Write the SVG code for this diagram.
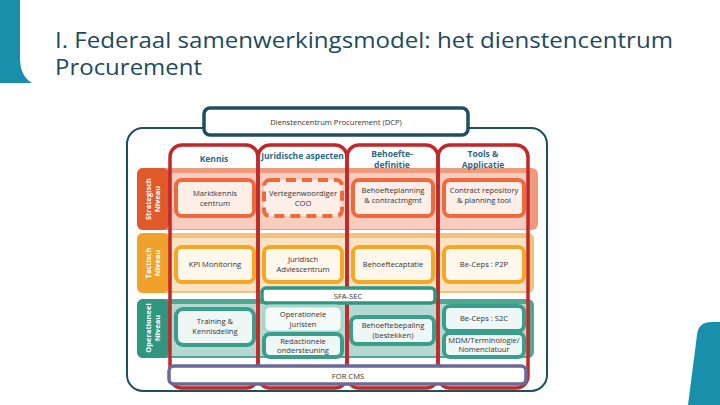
<svg xmlns="http://www.w3.org/2000/svg" width="720" height="405" viewBox="0 0 720 405">
<style>
.title{font-family:"Open Sans","Liberation Sans",sans-serif;font-size:21px;fill:#1d4a5c}
.hd{font-family:"Open Sans","Liberation Sans",sans-serif;font-size:8.5px;font-weight:bold;fill:#2b6a88;text-anchor:middle}
.t{font-family:"Open Sans","Liberation Sans",sans-serif;font-size:7.6px;fill:#333;text-anchor:middle}
.lv{font-family:"Open Sans","Liberation Sans",sans-serif;font-size:7.5px;font-weight:bold;fill:#fff;text-anchor:middle}
.col{fill:none;stroke:#c0282a;stroke-width:3.5}
.bs{fill:#fdeee8;stroke:#ec6a3e;stroke-width:4}
.bt{fill:#fef7ec;stroke:#f5a623;stroke-width:4}
.bo{fill:#eef7f5;stroke:#3a9f8a;stroke-width:4}
</style>
<path d="M0 0H20V58Q20 76 32 83H0Z" fill="#1a8fac"/>
<path d="M688 405L697 335Q698 322 712 322H720V405Z" fill="#1a8fac"/>
<text class="title" x="55" y="48" textLength="618" lengthAdjust="spacingAndGlyphs">I. Federaal samenwerkingsmodel: het dienstencentrum</text>
<text class="title" x="55" y="75" textLength="147" lengthAdjust="spacingAndGlyphs">Procurement</text>

<g id="outer"><rect x="127" y="128" width="420" height="263" rx="16" fill="#fff" stroke="#1f4e5f" stroke-width="2"/></g>

<g id="band-strategisch">
<rect x="137" y="168" width="401" height="62" rx="6" fill="#ee9a7c"/>
<rect x="168" y="173" width="361" height="56" fill="#f8cdbd"/>
<rect x="137" y="168" width="32" height="62" rx="6" fill="#e0592b"/>
<text class="lv" transform="translate(151,199) rotate(-90)">Strategisch</text>
<text class="lv" transform="translate(160,199) rotate(-90)">Niveau</text>
</g>
<g id="band-tactisch">
<rect x="137" y="233" width="397" height="60" rx="6" fill="#f3c27e"/>
<rect x="168" y="238" width="361" height="53" fill="#fbe3c3"/>
<rect x="137" y="233" width="32" height="60" rx="6" fill="#f0a12c"/>
<text class="lv" transform="translate(151,263) rotate(-90)">Tactisch</text>
<text class="lv" transform="translate(160,263) rotate(-90)">Niveau</text>
</g>
<g id="band-operationeel">
<rect x="137" y="299" width="397" height="59" rx="6" fill="#4fa896"/>
<rect x="168" y="304" width="361" height="52" fill="#b3d9d0"/>
<rect x="137" y="299" width="32" height="59" rx="6" fill="#2f9680"/>
<text class="lv" transform="translate(151,328) rotate(-90)">Operationeel</text>
<text class="lv" transform="translate(160,328) rotate(-90)">Niveau</text>
</g>

<g id="col-kennis"><rect class="col" x="170" y="145" width="88" height="243" rx="12"/>
<text class="hd" x="214" y="162">Kennis</text></g>
<g id="col-juridisch"><rect class="col" x="258" y="145" width="89" height="243" rx="12"/>
<text class="hd" x="302.5" y="159" font-size="7.8">Juridische aspecten</text></g>
<g id="col-behoefte"><rect class="col" x="347" y="145" width="91" height="243" rx="12"/>
<text class="hd" x="392" y="157">Behoefte-</text><text class="hd" x="392" y="168">definitie</text></g>
<g id="col-tools"><rect class="col" x="438" y="145" width="90" height="243" rx="12"/>
<text class="hd" x="483" y="157" font-weight="normal">Tools &amp;</text><text class="hd" x="483" y="168">Applicatie</text></g>

<g id="marktkennis"><rect class="bs" x="176" y="180" width="78" height="36" rx="6"/>
<text class="t" x="215" y="196">Marktkennis</text><text class="t" x="215" y="206">centrum</text></g>
<g id="vertegenwoordiger"><rect x="264" y="180" width="78" height="36" rx="6" fill="#fdeee8" stroke="#ec6a3e" stroke-width="4" stroke-dasharray="10,6"/>
<text class="t" x="303" y="196">Vertegenwoordiger</text><text class="t" x="303" y="206">COO</text></g>
<g id="behoefteplanning"><rect class="bs" x="353" y="180" width="80" height="36" rx="6"/>
<text class="t" x="393" y="193">Behoefteplanning</text><text class="t" x="393" y="203">&amp; contractmgmt</text></g>
<g id="contract-repository"><rect class="bs" x="444" y="180" width="80" height="36" rx="6"/>
<text class="t" x="484" y="193">Contract repository</text><text class="t" x="484" y="203">&amp; planning tool</text></g>

<g id="kpi"><rect class="bt" x="176" y="247" width="78" height="35" rx="6"/>
<text class="t" x="215" y="267">KPI Monitoring</text></g>
<g id="juridisch-advies"><rect class="bt" x="264" y="247" width="78" height="35" rx="6"/>
<text class="t" x="303" y="262">Juridisch</text><text class="t" x="303" y="272">Adviescentrum</text></g>
<g id="behoeftecaptatie"><rect class="bt" x="353" y="247" width="80" height="35" rx="6"/>
<text class="t" x="393" y="267">Behoeftecaptatie</text></g>
<g id="p2p"><rect class="bt" x="444" y="247" width="80" height="35" rx="6"/>
<text class="t" x="484" y="267">Be-Ceps : P2P</text></g>

<g id="sfa-sec"><rect x="262" y="288" width="173" height="15" rx="4" fill="#fff" stroke="#2f9680" stroke-width="3.5"/>
<text class="t" x="348" y="298.5">SFA-SEC</text></g>

<g id="training"><rect class="bo" x="176" y="309" width="78" height="36" rx="7"/>
<text class="t" x="215" y="324">Training &amp;</text><text class="t" x="215" y="334">Kennisdeling</text></g>
<g id="operationele-juristen"><rect x="264" y="306" width="78" height="26" rx="6" fill="#f3faf8" stroke="#a9d6cb" stroke-width="3"/>
<text class="t" x="303" y="317">Operationele</text><text class="t" x="303" y="327">juristen</text></g>
<g id="redactionele"><rect class="bo" x="264" y="334" width="78" height="23" rx="6"/>
<text class="t" x="303" y="344">Redactionele</text><text class="t" x="303" y="353">ondersteuning</text></g>
<g id="behoeftebepaling"><rect class="bo" x="351" y="317" width="83" height="27" rx="6"/>
<text class="t" x="393" y="328">Behoeftebepaling</text><text class="t" x="393" y="338">(bestekken)</text></g>
<g id="s2c"><rect class="bo" x="444" y="306" width="80" height="25" rx="6"/>
<text class="t" x="484" y="321">Be-Ceps : S2C</text></g>
<g id="mdm"><rect class="bo" x="444" y="333" width="80" height="24" rx="6"/>
<text class="t" x="484" y="343">MDM/Terminologie/</text><text class="t" x="484" y="352">Nomenclatuur</text></g>

<g id="for-cms"><rect x="169" y="366" width="357" height="18" rx="5" fill="#fff" stroke="#6a6a9a" stroke-width="3.5"/>
<text class="t" x="348" y="378.5" font-size="8.5">FOR CMS</text></g>

<g id="dcp"><rect x="204" y="108" width="264" height="27" rx="6" fill="#fff" stroke="#1f4e5f" stroke-width="3.5"/>
<text class="t" x="336" y="125" font-size="9.5" fill="#222">Dienstencentrum Procurement (DCP)</text></g>
<g id="connectors"></g>
</svg>
